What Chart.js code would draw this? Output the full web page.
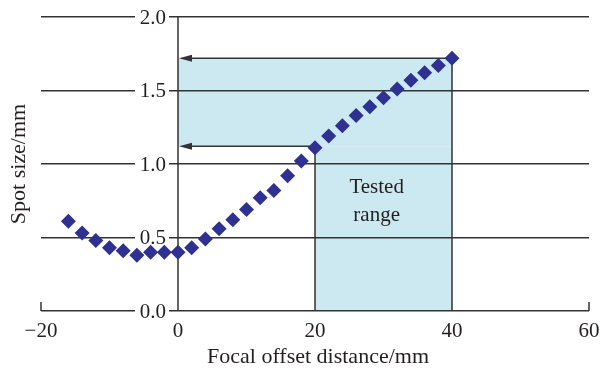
<!DOCTYPE html>
<html>
<head>
<meta charset="utf-8">
<script src="https://cdn.jsdelivr.net/npm/chart.js@4.4.0/dist/chart.umd.min.js"></script>
<style>
  html, body { margin: 0; padding: 0; background: #fff; }
  #wrap { width: 601px; height: 369px; }
</style>
</head>
<body>
<div id="wrap"><canvas id="spotChart" width="601" height="369"></canvas></div>
<script>
// focal offset (mm) and measured spot size (mm)
const offsets = [-16, -14, -12, -10, -8, -6, -4, -2, 0, 2, 4, 6, 8, 10, 12, 14,
                 16, 18, 20, 22, 24, 26, 28, 30, 32, 34, 36, 38, 40];
const spotSizes = [0.61, 0.53, 0.48, 0.43, 0.41, 0.38, 0.40, 0.40, 0.40, 0.43, 0.49, 0.56,
                   0.62, 0.69, 0.77, 0.82, 0.92, 1.02, 1.11, 1.19, 1.26, 1.33, 1.39, 1.45,
                   1.51, 1.57, 1.62, 1.67, 1.72];

const xTicks = [-20, 0, 20, 40, 60];
const yTicks = [0.0, 0.5, 1.0, 1.5, 2.0];

// tested range box and the two arrows pointing back to the axis
const testedRange = [20, 40];
const arrowLevels = [1.72, 1.12];
const arrowStarts = [40, 20];
const rangeText = ["Tested", "range"];

const xTitle = "Focal offset distance/mm";
const yTitle = "Spot size/mm";

const INK = "#333333";
const TEXT = "#231f20";
const SHADE = "#cce8f0";
const MARK = "#2e3192";
const SERIF = "'Liberation Serif', 'Times New Roman', serif";

const data = {
    datasets: [{
        data: offsets.map((o, i) => ({x: o, y: spotSizes[i]})),
        pointStyle: "rectRot",
        pointRadius: 7.5,
        pointHoverRadius: 7.5,
        backgroundColor: MARK,
        borderWidth: 0,
        showLine: false
    }]
};

const decorations = {
    id: "decorations",
    beforeDraw(chart) {
        const {ctx, scales: {x, y}} = chart;
        ctx.save();
        ctx.fillStyle = SHADE;
        // upper band from the axis to the end of the range
        ctx.fillRect(x.getPixelForValue(0), y.getPixelForValue(arrowLevels[0]),
            x.getPixelForValue(testedRange[1]) - x.getPixelForValue(0),
            y.getPixelForValue(arrowLevels[1]) - y.getPixelForValue(arrowLevels[0]));
        // tested range column
        ctx.fillRect(x.getPixelForValue(testedRange[0]), y.getPixelForValue(arrowLevels[1]),
            x.getPixelForValue(testedRange[1]) - x.getPixelForValue(testedRange[0]),
            y.getPixelForValue(0) - y.getPixelForValue(arrowLevels[1]));
        ctx.restore();
    },
    beforeDatasetsDraw(chart) {
        const {ctx, scales: {x, y}} = chart;
        const x0 = x.getPixelForValue(0);
        const yBase = y.getPixelForValue(0);
        ctx.save();
        ctx.strokeStyle = INK;
        ctx.lineWidth = 1.5;

        // y tick labels sit on the grid lines, left of the axis
        ctx.font = "21px " + SERIF;
        ctx.textAlign = "right";
        ctx.textBaseline = "middle";
        yTicks.forEach(v => {
            const py = y.getPixelForValue(v);
            ctx.fillStyle = "#fff";
            ctx.fillRect(x0 - 43, py - 9, 34, 18);
            ctx.fillStyle = TEXT;
            ctx.fillText(v.toFixed(1), x0 - 12, py + 1);
        });

        ctx.beginPath();
        // vertical axis at x = 0
        ctx.moveTo(x0, yBase);
        ctx.lineTo(x0, y.getPixelForValue(2));
        // range edges
        ctx.moveTo(x.getPixelForValue(testedRange[0]), yBase);
        ctx.lineTo(x.getPixelForValue(testedRange[0]), y.getPixelForValue(arrowLevels[1]));
        ctx.moveTo(x.getPixelForValue(testedRange[1]), yBase);
        ctx.lineTo(x.getPixelForValue(testedRange[1]), y.getPixelForValue(arrowLevels[0]));
        // end ticks of the x axis
        [xTicks[0], xTicks[xTicks.length - 1]].forEach(v => {
            const px = x.getPixelForValue(v);
            ctx.moveTo(px, yBase);
            ctx.lineTo(px, yBase - 9);
        });
        // arrow shafts
        arrowLevels.forEach((lv, i) => {
            const py = y.getPixelForValue(lv);
            ctx.moveTo(x.getPixelForValue(arrowStarts[i]), py);
            ctx.lineTo(x0 + 10, py);
        });
        ctx.stroke();

        // arrow heads
        ctx.fillStyle = INK;
        arrowLevels.forEach(lv => {
            const py = y.getPixelForValue(lv);
            ctx.beginPath();
            ctx.moveTo(x0 + 1, py);
            ctx.lineTo(x0 + 14, py - 3.5);
            ctx.lineTo(x0 + 14, py + 3.5);
            ctx.closePath();
            ctx.fill();
        });

        // label inside the tested range
        ctx.fillStyle = TEXT;
        ctx.textAlign = "center";
        ctx.fillText(rangeText[0], x.getPixelForValue(29), y.getPixelForValue(0.84));
        ctx.fillText(rangeText[1], x.getPixelForValue(29), y.getPixelForValue(0.65));

        // axis titles
        ctx.font = "22px " + SERIF;
        ctx.fillText(xTitle, (x.left + x.right) / 2 + 3, 357);
        ctx.translate(19, 164);
        ctx.rotate(-Math.PI / 2);
        ctx.fillText(yTitle, 0, 0);
        ctx.restore();
    }
};

new Chart(document.getElementById("spotChart"), {
    type: "scatter",
    data: data,
    options: {
        responsive: false,
        animation: false,
        devicePixelRatio: 1,
        layout: {padding: {top: 17, right: 12, left: 0, bottom: 0}},
        plugins: {legend: {display: false}, tooltip: {enabled: false}},
        scales: {
            x: {
                type: "linear",
                min: -20,
                max: 60,
                afterBuildTicks: s => { s.ticks = xTicks.map(v => ({value: v})); },
                afterFit: s => { s.height = 58; s.paddingLeft = 0; s.paddingRight = 0; },
                grid: {display: false},
                border: {display: false},
                ticks: {
                    color: TEXT,
                    padding: 0,
                    maxRotation: 0,
                    font: {family: SERIF, size: 21},
                    callback: v => v < 0 ? "\u2212" + Math.abs(v) : String(v)
                }
            },
            y: {
                type: "linear",
                min: 0,
                max: 2,
                afterBuildTicks: s => { s.ticks = yTicks.map(v => ({value: v})); },
                afterFit: s => { s.width = 41; s.paddingTop = 0; s.paddingBottom = 0; },
                grid: {color: INK, lineWidth: 1.5, drawTicks: false},
                border: {display: false},
                ticks: {display: false}
            }
        }
    },
    plugins: [decorations]
});
</script>
</body>
</html>
